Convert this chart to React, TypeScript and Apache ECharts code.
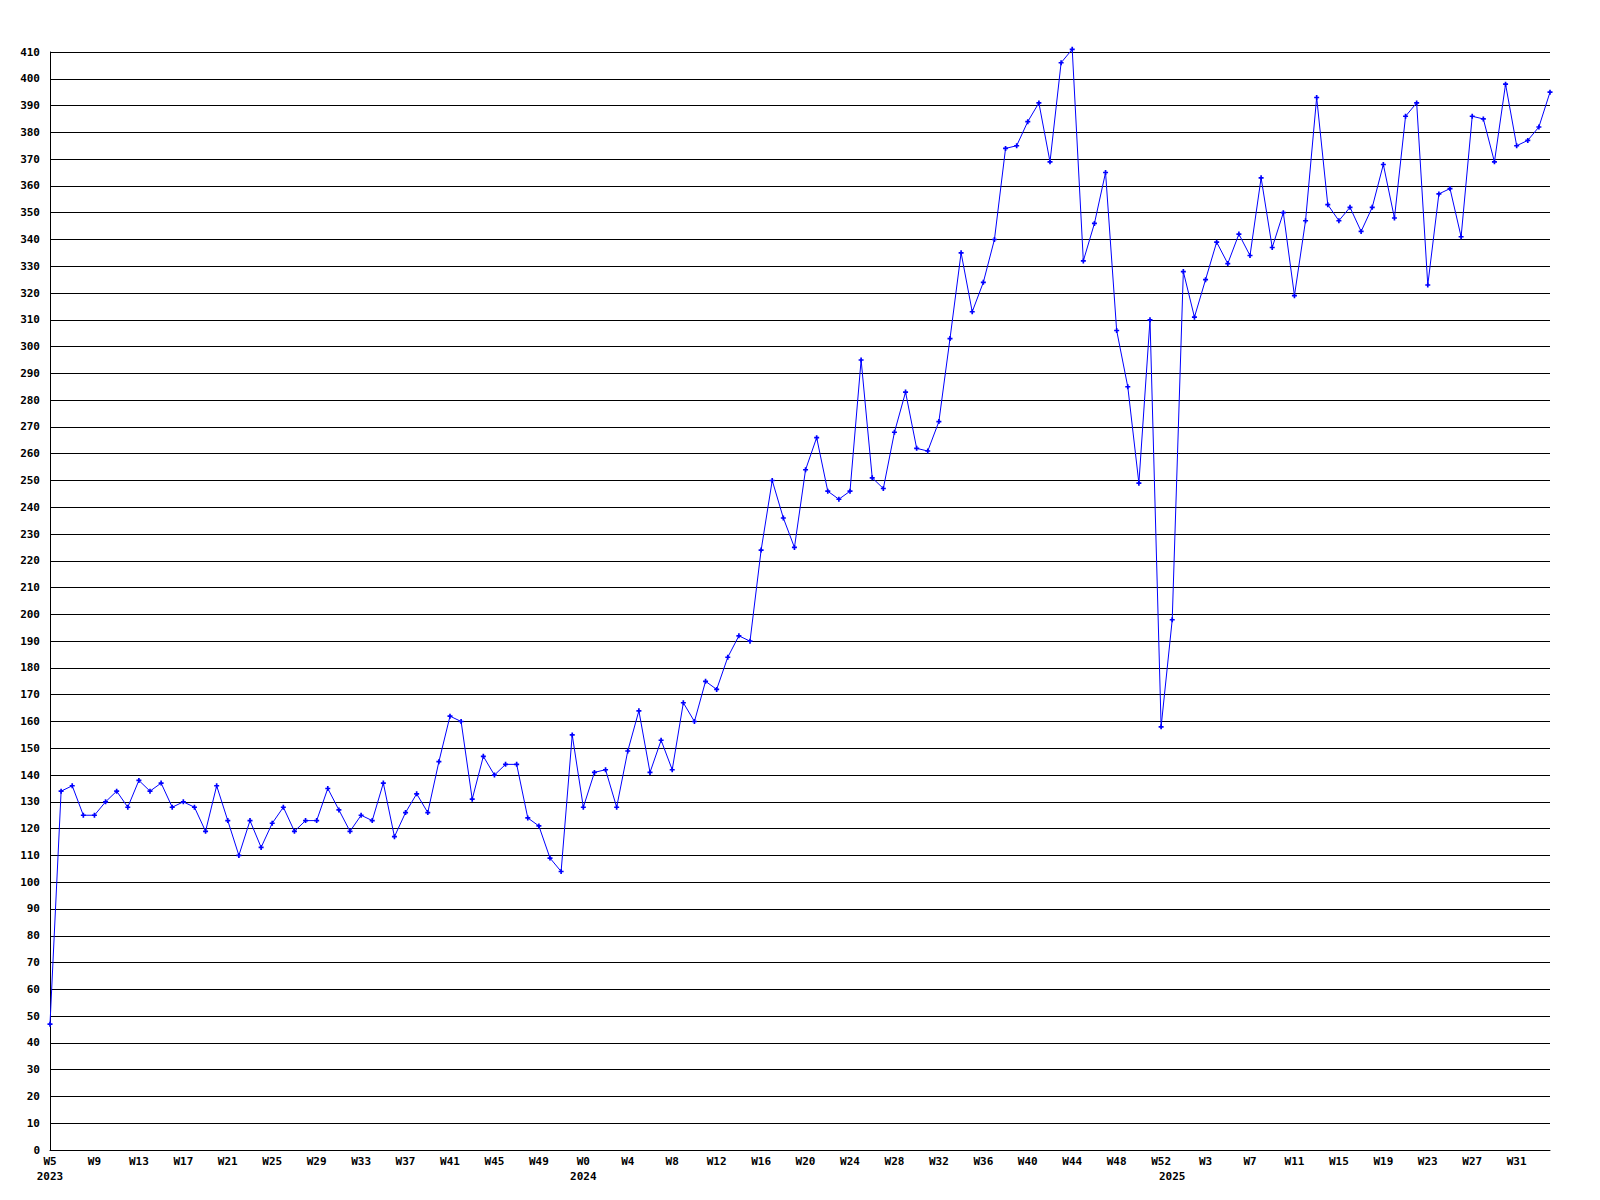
import React, { useEffect, useRef } from "react";
import * as echarts from "echarts";

// Week ranges per year (first week, last week shown)
const years = [2023, 2024, 2025];
const firstWeeks = [5, 0, 0];
const lastWeeks = [52, 52, 34];

// Weekly values, one array per year
const values2023 = [
  47, 134, 136, 125, 125, 130, 134, 128, 138, 134, 137, 128, 130, 128, 119, 136,
  123, 110, 123, 113, 122, 128, 119, 123, 123, 135, 127, 119, 125, 123, 137, 117,
  126, 133, 126, 145, 162, 160, 131, 147, 140, 144, 144, 124, 121, 109, 104, 155,
];
const values2024 = [
  128, 141, 142, 128, 149, 164, 141, 153, 142, 167, 160, 175, 172, 184, 192, 190,
  224, 250, 236, 225, 254, 266, 246, 243, 246, 295, 251, 247, 268, 283, 262, 261,
  272, 303, 335, 313, 324, 340, 374, 375, 384, 391, 369, 406, 411, 332, 346, 365,
  306, 285, 249, 310, 158,
];
const values2025 = [
  198, 328, 311, 325, 339, 331, 342, 334, 363, 337, 350, 319, 347, 393, 353, 347,
  352, 343, 352, 368, 348, 386, 391, 323, 357, 359, 341, 386, 385, 369, 398, 375,
  377, 382, 395,
];

// Y axis ticks
const yMin = 0;
const yMax = 410;
const yStep = 10;
const labelEvery = 4;

const FONT = "DejaVu Sans Mono";

export default function App() {
  const ref = useRef<HTMLDivElement>(null);

  useEffect(() => {
    if (!ref.current) return;
    const chart = echarts.init(ref.current, undefined, { renderer: "svg" });

    const weekLabels: string[] = [];
    const yearStart: Record<number, string> = {};
    years.forEach((y, i) => {
      yearStart[weekLabels.length] = String(y);
      for (let w = firstWeeks[i]; w <= lastWeeks[i]; w++) {
        weekLabels.push("W" + w);
      }
    });
    const values = [...values2023, ...values2024, ...values2025];

    const showLabel = (idx: number) =>
      idx % labelEvery === 0 || yearStart[idx] !== undefined;

    chart.setOption({
      animation: false,
      backgroundColor: "#ffffff",
      grid: { left: 50, right: 50, top: 52, bottom: 50, containLabel: false },
      xAxis: {
        type: "category",
        data: weekLabels,
        boundaryGap: false,
        axisLine: { show: true, lineStyle: { color: "#000", width: 1 } },
        axisTick: { show: false },
        splitLine: { show: false },
        axisLabel: {
          interval: (idx: number) => showLabel(idx),
          formatter: (value: string, idx: number) => {
            const top = idx % labelEvery === 0 ? value : "";
            const yr = yearStart[idx];
            return yr !== undefined ? top + "\n" + yr : top;
          },
          color: "#000",
          fontFamily: FONT,
          fontWeight: "bold",
          fontSize: 11,
          lineHeight: 15,
          margin: 4,
        },
      },
      yAxis: {
        type: "value",
        min: yMin,
        max: yMax,
        interval: yStep,
        axisLine: { show: true, lineStyle: { color: "#000", width: 1 } },
        axisTick: { show: false },
        splitLine: { show: true, lineStyle: { color: "#000", width: 1 } },
        axisLabel: {
          color: "#000",
          fontFamily: FONT,
          fontWeight: "bold",
          fontSize: 11,
          margin: 10,
        },
      },
      series: [
        {
          type: "line",
          data: values,
          clip: false,
          showAllSymbol: true,
          symbol: "path://M2,0H4V2H6V4H4V6H2V4H0V2H2Z",
          symbolSize: 5,
          itemStyle: { color: "#0000ff" },
          lineStyle: { color: "#0000ff", width: 1 },
        },
      ],
    });

    return () => chart.dispose();
  }, []);

  return (
    <div
      ref={ref}
      style={{
        position: "absolute",
        left: 0,
        top: 0,
        width: 1600,
        height: 1200,
        background: "#fff",
      }}
    />
  );
}
